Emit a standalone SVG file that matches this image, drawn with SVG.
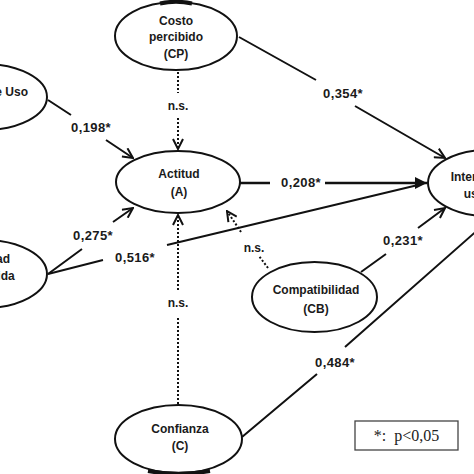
<svg xmlns="http://www.w3.org/2000/svg" width="474" height="474" viewBox="0 0 474 474">
<style>
.node ellipse{fill:#fff;stroke:#111;stroke-width:2}
.nt{font-family:"Liberation Sans",Arial,sans-serif;font-weight:bold;font-size:12px;fill:#1a1a1a;text-anchor:middle}
.lbl{font-family:"Liberation Sans",Arial,sans-serif;font-weight:bold;font-size:13px;fill:#1a1a1a;text-anchor:middle;letter-spacing:0.4px}
.ns{font-family:"Liberation Sans",Arial,sans-serif;font-weight:bold;font-size:12px;fill:#1a1a1a;text-anchor:middle}
.e{fill:none;stroke:#111;stroke-width:2}
.d{fill:none;stroke:#111;stroke-width:2;stroke-dasharray:2 2}
.open{marker-end:url(#op)}
</style>
<defs>
<marker id="op" viewBox="0 0 12 12" refX="11" refY="6" markerWidth="12" markerHeight="12" markerUnits="userSpaceOnUse" orient="auto">
<path d="M1,1 L11,6 L1,11" fill="none" stroke="#111" stroke-width="2"/>
</marker>
<marker id="fl" viewBox="0 0 14 14" refX="13" refY="7" markerWidth="14" markerHeight="14" markerUnits="userSpaceOnUse" orient="auto">
<path d="M1,1 L13,7 L1,13 Z" fill="#111"/>
</marker>
</defs>
<rect width="474" height="474" fill="#fff"/>
<g id="connectors">
<path class="e open" d="M48,100 L71,115 M106,140 L133,158"/>
<path class="d open" d="M178,72 L178,93 M178,118 L178,149"/>
<path class="e open" d="M239,37 L316,80 M355,106 L445,158"/>
<path class="e" style="stroke-width:2.6" marker-end="url(#fl)" d="M240,183 L270,183 M325,183 L427,183"/>
<path class="e" d="M48,274 L103,260 M167,245 L418,185"/>
<path class="e open" d="M48,274 L82,249 M113,222 L133,208"/>
<path class="d open" d="M178,404 L178,316 M178,290 L178,215"/>
<path class="d open" d="M268,268 L259,256 M241,232 L227,211"/>
<path class="e open" d="M361,272 L386,254 M418,228 L445,208"/>
<path class="e" d="M242,437 L317,374 M345,347 L480,228"/>
<text class="lbl" x="91" y="132">0,198*</text>
<text class="ns" x="178" y="110">n.s.</text>
<text class="lbl" x="343" y="98">0,354*</text>
<text class="lbl" x="301" y="187">0,208*</text>
<text class="lbl" x="135" y="262">0,516*</text>
<text class="lbl" x="93" y="240">0,275*</text>
<text class="ns" x="178" y="307">n.s.</text>
<text class="ns" x="254" y="252">n.s.</text>
<text class="lbl" x="403" y="245">0,231*</text>
<text class="lbl" x="335" y="367">0,484*</text>
</g>
<g id="node-CP" class="node">
<ellipse cx="176" cy="36" rx="61" ry="34"/>
<path d="M160,3.5 Q176,0 192,3.5" fill="none" stroke="#111" stroke-width="4"/>
<text class="nt" x="176" y="25">Costo</text>
<text class="nt" x="176" y="41">percibido</text>
<text class="nt" x="176" y="58">(CP)</text>
</g>
<g id="node-FU" class="node">
<ellipse cx="-16" cy="97" rx="63" ry="33"/>
<text class="nt" x="28" y="96" style="text-anchor:end">Facilidad de Uso</text>
</g>
<g id="node-UP" class="node">
<ellipse cx="-16" cy="274" rx="63" ry="34"/>
<text class="nt" x="-12" y="263">Utilidad</text>
<text class="nt" x="-12" y="280">percibida</text>
</g>
<g id="node-A" class="node">
<ellipse cx="178" cy="182" rx="62" ry="31"/>
<text class="nt" x="179" y="178">Actitud</text>
<text class="nt" x="179" y="196">(A)</text>
</g>
<g id="node-IU" class="node">
<ellipse cx="488" cy="183" rx="60" ry="33"/>
<text class="nt" x="486" y="181">Intención de</text>
<text class="nt" x="486" y="198">uso (IU)</text>
</g>
<g id="node-CB" class="node">
<ellipse cx="314.5" cy="297" rx="62.5" ry="35"/>
<text class="nt" x="316" y="294">Compatibilidad</text>
<text class="nt" x="316" y="313">(CB)</text>
</g>
<g id="node-C" class="node">
<ellipse cx="178.5" cy="439" rx="63.5" ry="34"/>
<path d="M148,471 Q178,476.5 210,471" fill="none" stroke="#111" stroke-width="4"/>
<text class="nt" x="180" y="433">Confianza</text>
<text class="nt" x="180" y="450">(C)</text>
</g>
<g id="legend">
<rect x="355" y="421" width="103" height="29" fill="#fff" stroke="#444" stroke-width="1.3"/>
<text x="406.5" y="441" style="font-family:'Liberation Serif','Times New Roman',serif;font-size:16px;fill:#222;text-anchor:middle">*:&#160; p&lt;0,05</text>
</g>
</svg>
